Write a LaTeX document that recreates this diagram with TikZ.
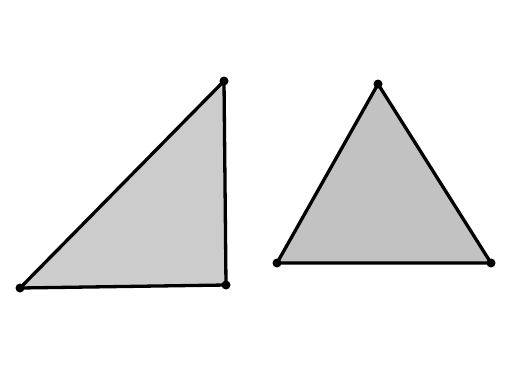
\documentclass[tikz,border=0pt]{standalone}
\definecolor{tri}{RGB}{204,204,204}
\definecolor{tridark}{RGB}{194,194,194}
\tikzset{
  triside/.style={draw=black,line width=3.3pt,line join=round,fill=tri},
  vertexdot/.style={circle,fill=black,inner sep=0pt,minimum size=9pt},
}
\begin{document}
\begin{tikzpicture}[x=1pt,y=-1pt]
\useasboundingbox (0,0) rectangle (516,367);
\fill[white] (0,0) rectangle (516,367);
% left (right-angled) triangle
\coordinate (A) at (20,288);
\coordinate (B) at (224,81);
\coordinate (C) at (226,285);
\path[triside] (A) -- (B) -- (C) -- cycle;
\node[vertexdot] (a) at (A) {};
\node[vertexdot] (b) at (B) {};
\node[vertexdot] (c) at (C) {};
% right (equilateral-like) triangle
\coordinate (D) at (378,84);
\coordinate (E) at (277,263);
\coordinate (F) at (491,263);
\path[triside,fill=tridark] (D) -- (E) -- (F) -- cycle;
\node[vertexdot] (d) at (D) {};
\node[vertexdot] (e) at (E) {};
\node[vertexdot] (f) at (F) {};
\end{tikzpicture}
\end{document}
